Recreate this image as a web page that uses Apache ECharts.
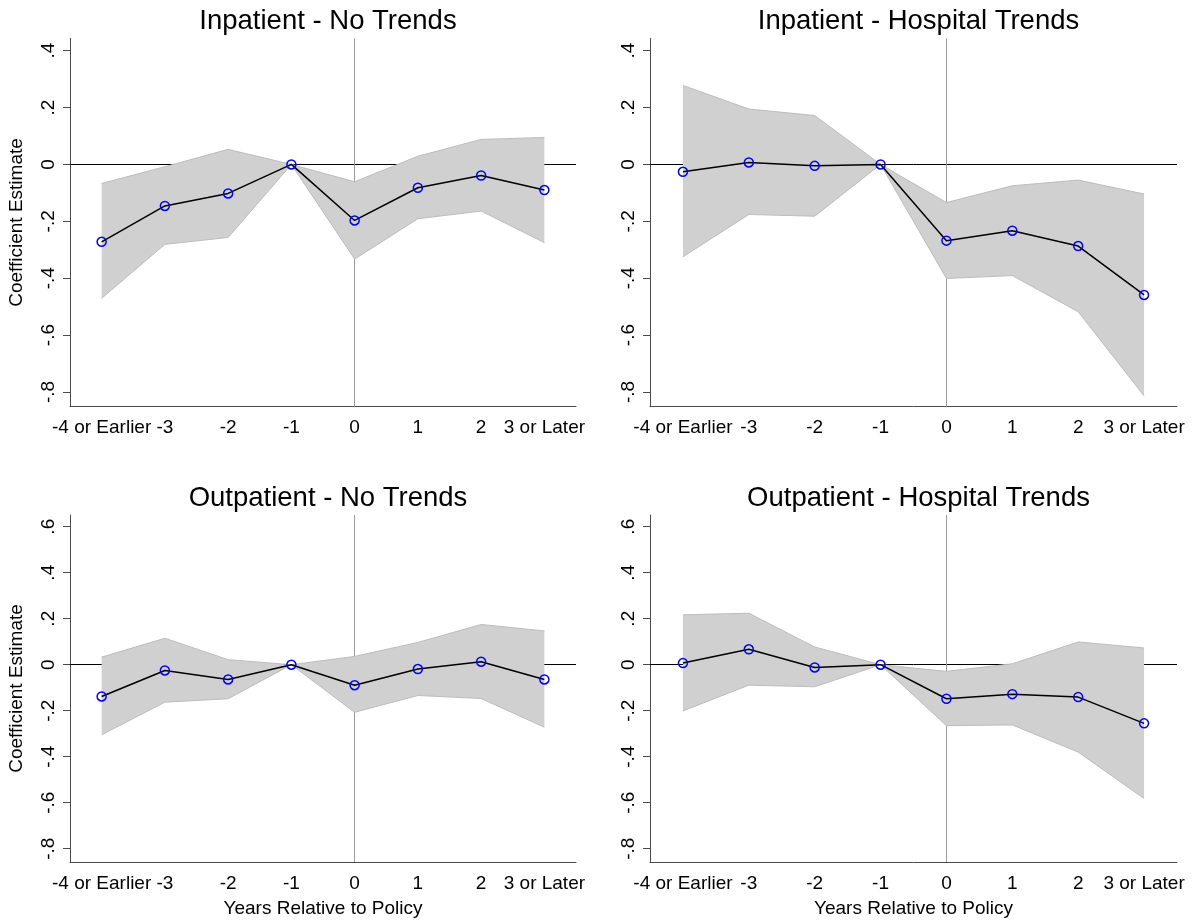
<!DOCTYPE html>
<html>
<head>
<meta charset="utf-8">
<script src="https://cdn.jsdelivr.net/npm/echarts@6/dist/echarts.min.js"></script>
<style>
html,body{margin:0;padding:0;background:#fff;}
#chart{width:1195px;height:923px;}
</style>
</head>
<body>
<div id="chart"></div>
<script>
// ---- data ----
const categories = ['-4 or Earlier', '-3', '-2', '-1', '0', '1', '2', '3 or Later'];

const ipNoCoef = [-0.272, -0.146, -0.102, 0, -0.197, -0.082, -0.039, -0.090];
const ipNoHi   = [-0.067, -0.008, 0.053, 0, -0.061, 0.029, 0.088, 0.095];
const ipNoLo   = [-0.471, -0.281, -0.257, 0, -0.333, -0.191, -0.164, -0.275];

const ipHtCoef = [-0.026, 0.007, -0.005, 0, -0.268, -0.233, -0.287, -0.459];
const ipHtHi   = [0.278, 0.195, 0.172, 0, -0.134, -0.075, -0.055, -0.104];
const ipHtLo   = [-0.325, -0.176, -0.182, 0, -0.401, -0.391, -0.518, -0.814];

const opNoCoef = [-0.138, -0.025, -0.064, 0, -0.089, -0.019, 0.013, -0.064];
const opNoHi   = [0.033, 0.115, 0.022, 0, 0.036, 0.097, 0.175, 0.147];
const opNoLo   = [-0.305, -0.163, -0.148, 0, -0.207, -0.134, -0.147, -0.272];

const opHtCoef = [0.007, 0.067, -0.012, 0, -0.148, -0.128, -0.141, -0.255];
const opHtHi   = [0.217, 0.224, 0.077, 0, -0.029, 0.004, 0.099, 0.073];
const opHtLo   = [-0.201, -0.089, -0.096, 0, -0.265, -0.262, -0.380, -0.582];

const yTicksTop = [-0.8, -0.6, -0.4, -0.2, 0, 0.2, 0.4];
const yTicksBottom = [-0.8, -0.6, -0.4, -0.2, 0, 0.2, 0.4, 0.6];
const yTickLabels = {'-0.8':'-.8','-0.6':'-.6','-0.4':'-.4','-0.2':'-.2','0':'0','0.2':'.2','0.4':'.4','0.6':'.6'};

const titles = ['Inpatient - No Trends', 'Inpatient - Hospital Trends', 'Outpatient - No Trends', 'Outpatient - Hospital Trends'];
const yTitle = 'Coefficient Estimate';
const xTitle = 'Years Relative to Policy';

// ---- layout ----
const FONT = '"Liberation Sans", Arial, Helvetica, sans-serif';
const panels = [
  {title: titles[0], coef: ipNoCoef, hi: ipNoHi, lo: ipNoLo, left: 70, width: 506, top: 38.3, height: 368.4, min: -0.852, max: 0.4436, ticks: yTicksTop, yName: yTitle, xName: '', titleTop: 2},
  {title: titles[1], coef: ipHtCoef, hi: ipHtHi, lo: ipHtLo, left: 650, width: 527, top: 38.3, height: 368.4, min: -0.852, max: 0.4436, ticks: yTicksTop, yName: '', xName: '', titleTop: 2},
  {title: titles[2], coef: opNoCoef, hi: opNoHi, lo: opNoLo, left: 70, width: 506, top: 515, height: 347, min: -0.858, max: 0.651, ticks: yTicksBottom, yName: yTitle, xName: xTitle, titleTop: 479},
  {title: titles[3], coef: opHtCoef, hi: opHtHi, lo: opHtLo, left: 650, width: 527, top: 515, height: 347, min: -0.858, max: 0.651, ticks: yTicksBottom, yName: '', xName: xTitle, titleTop: 479}
];

const axisColor = '#4a4a4a';
const option = {
  backgroundColor: '#fff',
  animation: false,
  textStyle: {fontFamily: FONT},
  title: [], grid: [], xAxis: [], yAxis: [], series: []
};

panels.forEach((p, i) => {
  option.title.push({
    text: p.title, left: p.left + p.width / 2, top: p.titleTop, textAlign: 'center',
    textStyle: {fontFamily: FONT, fontSize: 27.5, fontWeight: 'normal', color: '#000'}
  });
  option.grid.push({left: p.left, top: p.top, width: p.width, height: p.height, containLabel: false});
  option.xAxis.push({
    type: 'category', gridIndex: i, data: categories, boundaryGap: true,
    name: p.xName, nameLocation: 'middle', nameGap: 37,
    nameTextStyle: {fontFamily: FONT, fontSize: 19, color: '#000'},
    axisLine: {onZero: false, lineStyle: {color: axisColor, width: 1}},
    axisTick: {alignWithLabel: true, length: 7, lineStyle: {color: axisColor}},
    axisLabel: {interval: 0, hideOverlap: false, margin: 12, fontFamily: FONT, fontSize: 19, color: '#000'},
    splitLine: {show: false}
  });
  option.yAxis.push({
    type: 'value', gridIndex: i, min: p.min, max: p.max,
    name: p.yName, nameLocation: 'middle', nameGap: 44, nameRotate: 90,
    nameTextStyle: {fontFamily: FONT, fontSize: 19, color: '#000'},
    axisLine: {show: true, lineStyle: {color: axisColor, width: 1}},
    axisTick: {show: true, length: 7, customValues: p.ticks, lineStyle: {color: axisColor}},
    axisLabel: {
      customValues: p.ticks, rotate: 90, margin: 12, fontFamily: FONT, fontSize: 19, color: '#000',
      formatter: v => yTickLabels[String(Math.round(v * 10) / 10)] || String(v)
    },
    splitLine: {show: false}
  });
  const diff = p.hi.map((h, k) => h - p.lo[k]);
  option.series.push({
    type: 'line', xAxisIndex: i, yAxisIndex: i, data: p.lo, stack: 'band' + i, stackStrategy: 'all',
    symbol: 'none', z: 4, silent: true,
    lineStyle: {color: '#bdbdbd', width: 1},
    markLine: {
      silent: true, symbol: 'none', z: 1, label: {show: false},
      data: [
        {yAxis: 0, lineStyle: {color: '#000', width: 1, type: 'solid'}},
        {xAxis: '0', lineStyle: {color: '#9a9a9a', width: 1, type: 'solid'}}
      ]
    }
  });
  option.series.push({
    type: 'line', xAxisIndex: i, yAxisIndex: i, data: diff, stack: 'band' + i, stackStrategy: 'all',
    symbol: 'none', z: 4, silent: true,
    lineStyle: {color: '#bdbdbd', width: 1},
    areaStyle: {color: '#d0d0d0', opacity: 1}
  });
  option.series.push({
    type: 'line', xAxisIndex: i, yAxisIndex: i, data: p.coef,
    symbol: 'circle', symbolSize: 9, z: 6,
    lineStyle: {color: '#000', width: 1.5},
    itemStyle: {color: 'rgba(0,0,0,0)', borderColor: '#0000ff', borderWidth: 1.5}
  });
});

const chart = echarts.init(document.getElementById('chart'), null, {renderer: 'canvas'});
chart.setOption(option);
</script>
</body>
</html>
